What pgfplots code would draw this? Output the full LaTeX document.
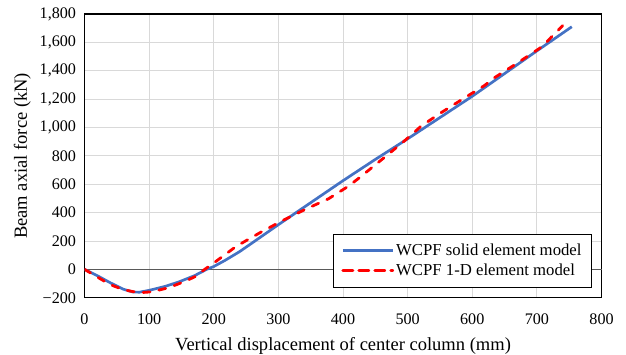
\documentclass[border=0pt]{standalone}
\usepackage{pgfplots}
\pgfplotsset{compat=1.18}
\usepackage{fontspec}
\setmainfont{Liberation Serif}
\definecolor{exblue}{HTML}{4472C4}
\definecolor{exgrid}{HTML}{D9D9D9}
\definecolor{zeroline}{HTML}{595959}
\begin{document}
\begin{tikzpicture}
\begin{axis}[
  scale only axis,
  width=517.5bp, height=284bp,
  xmin=0, xmax=800, ymin=-200, ymax=1800,
  xtick={0,100,...,800},
  ytick={-200,0,200,...,1800},
  yticklabels={−200,0,200,400,600,800,{1,000},{1,200},{1,400},{1,600},{1,800}},
  xticklabels={0,100,200,300,400,500,600,700,800},
  major tick length=0pt,
  grid=major,
  major grid style={draw=exgrid, line width=0.9bp},
  axis line style={black, line width=1.3bp},
  tick label style={font=\fontsize{16.2}{19}\selectfont},
  yticklabel style={xshift=-5bp},
  xticklabel style={yshift=-13bp},
  label style={font=\fontsize{18.6}{22}\selectfont},
  xlabel style={yshift=-6bp},
  ylabel style={yshift=2bp},
  xlabel={Vertical displacement of center column (mm)},
  ylabel={Beam axial force (kN)},
  extra y ticks={0},
  extra y tick labels={},
  extra y tick style={major grid style={draw=zeroline, line width=1bp}},
  legend style={at={(0.981,0.036)}, anchor=south east, draw=black,
    font=\fontsize{16.8}{19}\selectfont, row sep=3bp, inner xsep=8bp, inner ysep=8bp},
  legend cell align=left,
  legend image code/.code={\path (-3bp,0bp) -- (47bp,0bp); \draw[#1] (0bp,0bp) -- (41bp,0bp);},
]
\addplot[exblue, line width=2.7bp, line join=round] coordinates {
(0,0) (20,-45) (40,-95) (60,-140) (75,-160) (85,-161) (100,-148) (125,-120) (147,-87) (170,-45) (189,0) (200,20) (217,62) (240,125) (260,188) (300,315) (350,470) (400,625) (450,775) (500,920) (550,1070) (600,1220) (650,1380) (700,1540) (754,1710)
};
\addlegendentry{WCPF solid element model}
\addplot[red, line width=2.8bp, dash pattern=on 7bp off 9bp, line cap=round, line join=round] coordinates {
(0,0) (20,-55) (40,-108) (60,-143) (75,-157) (90,-163) (105,-158) (127,-133) (140,-112) (158,-80) (171,-51) (186,0) (200,45) (235,163) (276,270) (310,352) (343,426) (377,496) (408,585) (426,648) (467,800) (495,905) (521,1010) (552,1105) (585,1200) (619,1296) (634,1350) (665,1440) (696,1533) (709,1573) (724,1645) (740,1718)
};
\addlegendentry{WCPF 1-D element model}
\end{axis}
\pgfresetboundingbox
\path[use as bounding box] ([shift={(-84.6bp,-57bp)}]current axis.south west) rectangle ([shift={(24.5bp,14bp)}]current axis.north east);
\end{tikzpicture}
\end{document}
